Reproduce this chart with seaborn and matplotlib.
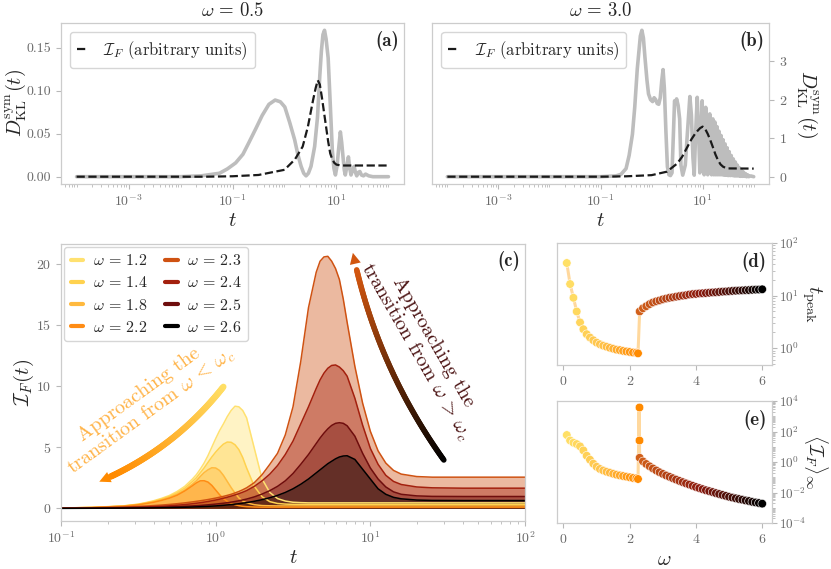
import numpy as np
import matplotlib
matplotlib.use("Agg")
import matplotlib.pyplot as plt
import seaborn as sns
from matplotlib.collections import LineCollection
from matplotlib.colors import LinearSegmentedColormap
from matplotlib.ticker import FixedLocator, NullFormatter, LogLocator

# ---------------- data ----------------
# panel (a), omega = 0.5
log10_t_a_gray = [-4.0, -2.0, -1.6, -1.25, -1.1, -0.94, -0.8, -0.69, -0.55, -0.43, -0.3, -0.18, -0.08,
                  0.006, 0.1, 0.195, 0.26, 0.32, 0.37, 0.415, 0.46, 0.51, 0.58, 0.635, 0.68, 0.71, 0.74,
                  0.77, 0.80, 0.84, 0.88, 0.92, 0.95, 0.98, 1.01, 1.04, 1.075, 1.10, 1.126, 1.15, 1.17,
                  1.2, 1.23, 1.255, 1.28, 1.31, 1.34, 1.365, 1.39, 1.42, 1.45, 1.48, 1.52, 1.56, 1.62,
                  1.7, 2.0]
dkl_a = [0, 0, 0.001, 0.004, 0.009, 0.016, 0.026, 0.039, 0.056, 0.071, 0.084, 0.089, 0.087,
         0.081, 0.063, 0.043, 0.025, 0.012, 0.004, 0.001, 0.004, 0.012, 0.035, 0.069, 0.118, 0.146, 0.165,
         0.17, 0.16, 0.138, 0.085, 0.031, 0.01, 0.002, 0.012, 0.031, 0.052, 0.04, 0.023, 0.008, 0.002,
         0.012, 0.023, 0.01, 0.002, 0.008, 0.012, 0.005, 0.001, 0.005, 0.006, 0.002, 0.001, 0.003, 0.001,
         0.0, 0.0]
log10_t_a_dash = [-4.0, -1.5, -1.0, -0.5, 0.0, 0.2, 0.35, 0.45, 0.55, 0.6, 0.64, 0.68, 0.72, 0.76,
                  0.8, 0.84, 0.88, 0.92, 0.96, 1.0, 1.1, 2.0]
fisher_a = [0, 0, 0.0005, 0.002, 0.008, 0.02, 0.035, 0.058, 0.089, 0.103, 0.112, 0.107, 0.092, 0.075,
            0.058, 0.041, 0.027, 0.02, 0.016, 0.014, 0.013, 0.013]

# panel (b), omega = 3.0
log10_t_b_gray = [-4.0, -1.0, -0.7, -0.6, -0.5, -0.44, -0.375, -0.33, -0.28, -0.22, -0.19, -0.16, -0.13,
                  -0.09, -0.06, -0.02, 0.02, 0.05, 0.08, 0.11, 0.14, 0.17, 0.2, 0.225, 0.25, 0.28, 0.31,
                  0.34, 0.37, 0.40, 0.43, 0.45, 0.47, 0.49, 0.52, 0.55, 0.575, 0.61, 0.66, 0.7, 0.75,
                  0.78, 0.81, 0.835, 0.865, 0.894, 0.92, 0.945, 0.97, 0.99, 1.01, 1.03, 1.06, 1.08,
                  1.10, 1.14, 1.16, 1.175, 1.20, 1.22, 1.24, 1.26, 1.28, 1.30, 1.32, 1.34, 1.36, 1.38,
                  1.40, 1.42, 1.44, 1.46, 1.48, 1.50, 1.52, 1.54, 1.56, 1.58, 1.60, 1.62, 1.64, 1.66,
                  1.68, 1.70, 1.72, 1.74, 1.76, 1.78, 1.80, 1.82, 1.84, 1.86, 1.88, 1.90, 1.94, 2.0]
dkl_b = [0, 0, 0.02, 0.06, 0.21, 0.55, 1.1, 1.8, 2.8, 3.65, 3.8, 3.6, 3.1,
         2.5, 2.15, 2.0, 1.95, 2.05, 2.0, 1.9, 1.88, 2.05, 2.5, 2.78, 2.3, 1.2, 0.26,
         0.05, 0.03, 0.1, 1.2, 1.97, 1.9, 2.02, 1.85, 1.5, 0.3, 0.04, 0.3, 1.1, 2.08,
         1.6, 0.5, 0.04, 1.2, 2.06, 1.2, 0.1, 1.2, 1.97, 0.9, 0.05, 1.8, 0.6,
         0.05, 1.63, 0.4, 0.05, 1.5, 0.05, 1.42, 0.05, 1.3, 0.05, 1.18, 0.05, 1.07, 0.05,
         0.96, 0.04, 0.85, 0.04, 0.75, 0.03, 0.65, 0.03, 0.55, 0.03, 0.46, 0.02, 0.38, 0.02,
         0.3, 0.02, 0.23, 0.01, 0.17, 0.01, 0.12, 0.01, 0.08, 0.0, 0.05, 0.0, 0.02, 0.0]
log10_t_b_dash = [-4.0, -1.0, -0.5, 0.0, 0.3, 0.5, 0.6, 0.7, 0.78, 0.85, 0.9, 0.95, 1.0, 1.05, 1.1,
                  1.15, 1.2, 1.25, 1.3, 1.35, 1.4, 1.45, 1.5, 2.0]
fisher_b = [0, 0, 0.01, 0.04, 0.13, 0.34, 0.52, 0.77, 0.97, 1.11, 1.19, 1.26, 1.3, 1.24, 1.11,
            0.95, 0.77, 0.58, 0.43, 0.32, 0.26, 0.23, 0.215, 0.21]

# panel (c): I_F(t) for several omega
log10_t_c = [-1.0, -0.8, -0.6, -0.5, -0.45, -0.4, -0.35, -0.3, -0.25, -0.2,
             -0.15, -0.125, -0.1, -0.075, -0.05, -0.025, 0.0, 0.025, 0.05, 0.075, 0.1, 0.125, 0.15, 0.175,
             0.2, 0.25, 0.3, 0.35, 0.4, 0.45, 0.5, 0.55, 0.6,
             0.65, 0.675, 0.7, 0.725, 0.75, 0.775, 0.8, 0.825, 0.85,
             0.9, 0.95, 1.0, 1.05, 1.1, 1.15, 1.2, 1.3, 1.4, 1.6, 1.8, 2.0]
omega_c = ["1.2", "1.4", "1.8", "2.2", "2.3", "2.4", "2.5", "2.6"]
fisher_w12 = [0.03, 0.08, 0.2, 0.35, 0.48, 0.63, 0.82, 1.05, 1.38, 1.8,
              2.4, 2.75, 3.2, 3.7, 4.3, 5.0, 5.7, 6.35, 6.9, 7.5, 8.0, 8.35, 8.3, 8.0,
              7.4, 4.9, 2.4, 1.3, 0.8, 0.6, 0.5, 0.47, 0.45,
              0.45, 0.45, 0.45, 0.45, 0.45, 0.45, 0.45, 0.45, 0.45,
              0.45, 0.45, 0.45, 0.45, 0.45, 0.45, 0.45, 0.45, 0.45, 0.45, 0.45, 0.45]
fisher_w14 = [0.03, 0.07, 0.19, 0.33, 0.45, 0.58, 0.76, 0.97, 1.27, 1.65,
              2.2, 2.5, 2.9, 3.3, 3.75, 4.2, 4.6, 4.95, 5.25, 5.42, 5.4, 5.2, 4.8, 4.15,
              3.3, 1.8, 0.95, 0.55, 0.4, 0.35, 0.33, 0.32, 0.32,
              0.32, 0.32, 0.32, 0.32, 0.32, 0.32, 0.32, 0.32, 0.32,
              0.32, 0.32, 0.32, 0.32, 0.32, 0.32, 0.32, 0.32, 0.32, 0.32, 0.32, 0.32]
fisher_w18 = [0.03, 0.07, 0.18, 0.31, 0.42, 0.54, 0.7, 0.9, 1.15, 1.5,
              1.98, 2.25, 2.6, 2.92, 3.15, 3.32, 3.3, 3.1, 2.7, 2.2, 1.7, 1.25, 0.85, 0.6,
              0.45, 0.3, 0.23, 0.21, 0.2, 0.2, 0.2, 0.2, 0.2,
              0.2, 0.2, 0.2, 0.2, 0.2, 0.2, 0.2, 0.2, 0.2,
              0.2, 0.2, 0.2, 0.2, 0.2, 0.2, 0.2, 0.2, 0.2, 0.2, 0.2, 0.2]
fisher_w22 = [0.03, 0.07, 0.17, 0.29, 0.39, 0.5, 0.65, 0.83, 1.07, 1.42,
              1.85, 2.08, 2.25, 2.26, 2.15, 1.88, 1.5, 1.12, 0.8, 0.58, 0.42, 0.3, 0.22, 0.17,
              0.14, 0.11, 0.1, 0.1, 0.1, 0.1, 0.1, 0.1, 0.1,
              0.1, 0.1, 0.1, 0.1, 0.1, 0.1, 0.1, 0.1, 0.1,
              0.1, 0.1, 0.1, 0.1, 0.1, 0.1, 0.1, 0.1, 0.1, 0.1, 0.1, 0.1]
fisher_w23 = [0.02, 0.05, 0.11, 0.16, 0.19, 0.23, 0.27, 0.32, 0.38, 0.45,
              0.53, 0.575, 0.62, 0.67, 0.72, 0.78, 0.84, 0.91, 0.98, 1.06, 1.15, 1.26, 1.38, 1.52,
              1.68, 2.1, 2.75, 3.6, 4.5, 6.0, 8.3, 12.0, 16.4,
              19.3, 20.2, 20.55, 20.6, 20.2, 19.6, 18.7, 17.1, 15.2,
              11.6, 8.6, 6.3, 4.7, 3.7, 3.1, 2.8, 2.6, 2.55, 2.55, 2.55, 2.55]
fisher_w24 = [0.01, 0.03, 0.07, 0.1, 0.12, 0.14, 0.17, 0.21, 0.26, 0.31,
              0.38, 0.42, 0.46, 0.51, 0.56, 0.62, 0.68, 0.75, 0.83, 0.91, 1.0, 1.1, 1.2, 1.32,
              1.45, 1.8, 2.25, 2.8, 3.5, 4.4, 5.5, 6.9, 8.3,
              9.8, 10.5, 11.05, 11.45, 11.68, 11.72, 11.55, 11.25, 10.8,
              9.0, 6.8, 4.9, 3.6, 2.7, 2.2, 1.95, 1.75, 1.68, 1.65, 1.65, 1.65]
fisher_w25 = [0.01, 0.02, 0.04, 0.06, 0.07, 0.08, 0.1, 0.12, 0.14, 0.17,
              0.2, 0.22, 0.24, 0.265, 0.29, 0.32, 0.35, 0.385, 0.42, 0.465, 0.51, 0.565, 0.62, 0.69,
              0.76, 0.94, 1.17, 1.45, 1.8, 2.25, 2.85, 3.6, 4.4,
              5.3, 5.75, 6.15, 6.5, 6.78, 6.95, 7.0, 6.95, 6.75,
              5.9, 4.5, 3.3, 2.4, 1.75, 1.35, 1.15, 1.02, 0.98, 0.97, 0.97, 0.97]
fisher_w26 = [0.0, 0.01, 0.02, 0.03, 0.035, 0.04, 0.05, 0.06, 0.075, 0.09,
              0.11, 0.122, 0.135, 0.15, 0.165, 0.182, 0.2, 0.225, 0.25, 0.28, 0.31, 0.345, 0.38, 0.425,
              0.47, 0.58, 0.71, 0.87, 1.06, 1.3, 1.6, 1.97, 2.4,
              2.9, 3.15, 3.4, 3.65, 3.85, 4.05, 4.2, 4.28, 4.3,
              4.0, 3.2, 2.4, 1.6, 1.15, 0.9, 0.78, 0.68, 0.65, 0.64, 0.64, 0.64]
colors_c = ["#ffe170", "#ffd24f", "#ffb93e", "#ff8c14", "#cf5212", "#a3200e", "#6e0d0d", "#000000"]

# panels (d) and (e)
omega_low = [0.1, 0.2, 0.3, 0.4, 0.5, 0.6, 0.7, 0.8, 0.9, 1.0, 1.1, 1.2, 1.3, 1.4, 1.5, 1.6,
             1.7, 1.8, 1.9, 2.0, 2.1, 2.2, 2.25]
omega_high = [2.3, 2.4, 2.5, 2.6, 2.7, 2.8, 2.9, 3.0, 3.1, 3.2, 3.3, 3.4, 3.5, 3.6, 3.7, 3.8,
              3.9, 4.0, 4.1, 4.2, 4.3, 4.4, 4.5, 4.6, 4.7, 4.8, 4.9, 5.0, 5.1, 5.2, 5.3, 5.4,
              5.5, 5.6, 5.7, 5.8, 5.9, 6.0]
tpeak_low = [41.7, 16.6, 9.1, 5.0, 3.1, 2.3, 1.85, 1.6, 1.42, 1.28, 1.19, 1.12, 1.07, 1.02, 0.98,
             0.94, 0.92, 0.89, 0.87, 0.85, 0.83, 0.82, 0.80]
tpeak_high = [5.0, 5.75, 6.3, 6.9, 7.4, 7.8, 8.1, 8.5, 8.8, 9.1, 9.3, 9.55, 9.8, 10.0, 10.2, 10.5,
              10.7, 10.8, 11.0, 11.1, 11.2, 11.35, 11.5, 11.6, 11.75, 11.9, 12.0, 12.15, 12.3, 12.4,
              12.5, 12.6, 12.7, 12.75, 12.9, 13.0, 13.05, 13.2]
omega_jump = [2.27, 2.28]
finf_jump = [29.0, 4000.0]
finf_low = [59.0, 26.0, 18.5, 15.0, 10.7, 5.8, 2.6, 1.42, 0.78, 0.49, 0.35, 0.28, 0.23, 0.20, 0.17,
            0.148, 0.133, 0.12, 0.11, 0.10, 0.09, 0.085, 0.077]
finf_high = [1.91, 1.10, 0.741, 0.525, 0.380, 0.282, 0.214, 0.166, 0.132, 0.107, 0.0871, 0.0708,
             0.0575, 0.0479, 0.0398, 0.0331, 0.0275, 0.0229, 0.0195, 0.0166, 0.0141, 0.0123,
             0.0107, 0.00912, 0.00794, 0.00692, 0.00603, 0.00525, 0.00468, 0.00417, 0.00372,
             0.00339, 0.00302, 0.00275, 0.00245, 0.00224, 0.00204, 0.00186]

# ---------------- style ----------------
sns.set_theme(style="ticks")
plt.rcParams['font.family'] = ['cmr10', 'DejaVu Serif']
plt.rcParams['mathtext.fontset'] = 'cm'
plt.rcParams['axes.formatter.use_mathtext'] = True

TICK_C = '0.72'
LABEL_C = '0.42'
SPINE_C = '0.8'


def style_axes(ax):
    for sp in ax.spines.values():
        sp.set_color(SPINE_C)
        sp.set_linewidth(0.9)
    ax.tick_params(which='both', color=TICK_C, labelcolor=LABEL_C, labelsize=10)
    ax.tick_params(which='major', length=3.5, width=0.8)
    ax.tick_params(which='minor', length=2, width=0.6)


def panel_label(ax, s, x, y):
    ax.text(x, y, s, transform=ax.transAxes, ha='right', va='top', fontsize=13.5, family='cmb10')


def decade_minors(lo, hi, skip_majors):
    vals = []
    for k in range(lo, hi + 1):
        for m in range(1, 10):
            if m == 1 and k in skip_majors:
                continue
            vals.append(m * 10.0 ** k)
    return vals


def gradient_arrow(ax, p0, p1, p2, c_start, c_end, lw, cut=9, head=20):
    s = np.linspace(0, 1, 120)
    p0, p1, p2 = (np.asarray(p) for p in (p0, p1, p2))
    pts = ((1 - s) ** 2)[:, None] * p0 + (2 * (1 - s) * s)[:, None] * p1 + (s ** 2)[:, None] * p2
    body = pts[:-cut]
    segs = np.stack([body[:-1], body[1:]], axis=1)
    cmap = LinearSegmentedColormap.from_list('grad', [c_start, c_end])
    lc = LineCollection(segs, colors=cmap(np.linspace(0, 1, len(segs))), linewidths=lw,
                        transform=ax.transAxes, capstyle='round', zorder=5)
    ax.add_collection(lc, autolim=False)
    ax.annotate('', xy=pts[-1], xytext=pts[-cut - 3], xycoords='axes fraction',
                textcoords='axes fraction',
                arrowprops=dict(arrowstyle='-|>', mutation_scale=head, color=c_end, lw=0,
                                shrinkA=0, shrinkB=0), zorder=6)


fig = plt.figure(figsize=(8.31, 5.69), dpi=100)
ax_a = fig.add_axes([0.0734, 0.6766, 0.4128, 0.2830])
ax_b = fig.add_axes([0.5199, 0.6766, 0.4055, 0.2830])
ax_c = fig.add_axes([0.0734, 0.0844, 0.5584, 0.4873])
ax_d = fig.add_axes([0.6703, 0.3585, 0.2587, 0.2144])
ax_e = fig.add_axes([0.6703, 0.0808, 0.2587, 0.2144])

# ---------------- (a) and (b) ----------------
for ax, lt_g, dk, lt_d, fi, ttl, lab in [
        (ax_a, log10_t_a_gray, dkl_a, log10_t_a_dash, fisher_a, r'$\omega\,=\,0.5$', '(a)'),
        (ax_b, log10_t_b_gray, dkl_b, log10_t_b_dash, fisher_b, r'$\omega\,=\,3.0$', '(b)')]:
    sns.lineplot(x=10 ** np.array(lt_g), y=dk, color='#bdbdbd', lw=2.6, ax=ax, zorder=2)
    sns.lineplot(x=10 ** np.array(lt_d), y=fi, color='k', lw=1.6, linestyle='--', ax=ax, zorder=3,
                 label=r'$\mathcal{I}_F$ (arbitrary units)')
    ax.set_xscale('log')
    ax.set_xticks([1e-3, 1e-1, 1e1])
    ax.xaxis.set_minor_locator(FixedLocator(decade_minors(-5, 2, [-3, -1, 1])))
    ax.xaxis.set_minor_formatter(NullFormatter())
    ax.set_xlabel(r'$t$', fontsize=15, labelpad=2)
    ax.set_title(ttl, fontsize=13.5, pad=5)
    panel_label(ax, lab, 0.985, 0.95)
    ax.legend(loc='upper left', fontsize=12, handlelength=0.6, handletextpad=1.0,
              borderaxespad=0.55, edgecolor=SPINE_C, fancybox=True)
    style_axes(ax)

ax_a.set_yticks([0, 0.05, 0.10, 0.15])
ax_a.set_yticklabels(['0.00', '0.05', '0.10', '0.15'])
ax_a.set_ylabel(r'$D^{\rm sym}_{\rm KL}(t)$', fontsize=14.5)
ax_a.yaxis.set_label_coords(-0.095, 0.5)

ax_b.yaxis.tick_right()
ax_b.yaxis.set_label_position('right')
ax_b.set_yticks([0, 1, 2, 3])
ax_b.set_ylabel(r'$D^{\rm sym}_{\rm KL}(t)$', fontsize=14.5, rotation=270, va='bottom', labelpad=6)

# ---------------- (c) ----------------
t_c = 10 ** np.array(log10_t_c)
curves_c = [fisher_w12, fisher_w14, fisher_w18, fisher_w22, fisher_w23, fisher_w24, fisher_w25, fisher_w26]
for w, col, vals in zip(omega_c, colors_c, curves_c):
    ax_c.fill_between(t_c, 0, vals, color=col, alpha=0.4, lw=0)
    sns.lineplot(x=t_c, y=vals, color=col, lw=1.1, ax=ax_c, label=r'$\omega\,=\,%s$' % w)
ax_c.set_xscale('log')
ax_c.set_xlim(0.1, 100)
ax_c.set_yticks([0, 5, 10, 15, 20])
ax_c.set_xlabel(r'$t$', fontsize=15, labelpad=2)
ax_c.set_ylabel(r'$\mathcal{I}_F(t)$', fontsize=15)
ax_c.yaxis.set_label_coords(-0.054, 0.5)
panel_label(ax_c, '(c)', 0.99, 0.975)
leg = ax_c.legend(loc='upper left', ncol=2, fontsize=11.5, handlelength=0.8, handletextpad=0.6,
                  columnspacing=1.1, borderaxespad=0.2, labelspacing=0.45, edgecolor=SPINE_C)
for h in leg.get_lines():
    h.set_linewidth(3)
style_axes(ax_c)

gradient_arrow(ax_c, (0.350, 0.484), (0.2425, 0.256), (0.0825, 0.1417), '#ffe066', '#ff8a00', 4.5)
gradient_arrow(ax_c, (0.825, 0.220), (0.680, 0.559), (0.629, 0.967), '#000000', '#d2560f', 4.0)
ax_c.text(0.183, 0.422, 'Approaching the\ntransition from $\\omega\\,<\\,\\omega_c$', transform=ax_c.transAxes,
          rotation=36, rotation_mode='anchor', ha='center', va='center', multialignment='center',
          fontsize=14.5, color='#ffb347', linespacing=1.05)
ax_c.text(0.782, 0.627, 'Approaching the\ntransition from $\\omega\\,>\\,\\omega_c$', transform=ax_c.transAxes,
          rotation=-60, rotation_mode='anchor', ha='center', va='center', multialignment='center',
          fontsize=14.5, color='#4a1212', linespacing=1.05)

# ---------------- (d) and (e) ----------------
cmap_low = LinearSegmentedColormap.from_list('low', ['#ffe066', '#ffc34a', '#ff8a00'])
cmap_high = LinearSegmentedColormap.from_list('high', ['#d2601a', '#8b1a0e', '#000000'])

omega_d = omega_low + omega_high
tpeak_all = tpeak_low + tpeak_high
omega_e = omega_low + omega_jump + omega_high
finf_all = finf_low + finf_jump + finf_high

for ax, xs, ys in [(ax_d, omega_d, tpeak_all), (ax_e, omega_e, finf_all)]:
    sns.lineplot(x=xs, y=ys, sort=False, color='#ffcf85', lw=2.2, alpha=0.8, ax=ax, zorder=1)

sns.scatterplot(x=omega_low, y=tpeak_low, hue=omega_low, palette=cmap_low, s=38, legend=False,
                edgecolor='white', linewidth=0.4, ax=ax_d, zorder=3)
sns.scatterplot(x=omega_high, y=tpeak_high, hue=omega_high, palette=cmap_high, s=38, legend=False,
                edgecolor='white', linewidth=0.4, ax=ax_d, zorder=3)
sns.scatterplot(x=omega_low, y=finf_low, hue=omega_low, palette=cmap_low, s=38, legend=False,
                edgecolor='white', linewidth=0.4, ax=ax_e, zorder=3)
sns.scatterplot(x=omega_jump, y=finf_jump, color='#ff8a00', s=38, legend=False,
                edgecolor='white', linewidth=0.4, ax=ax_e, zorder=3)
sns.scatterplot(x=omega_high, y=finf_high, hue=omega_high, palette=cmap_high, s=38, legend=False,
                edgecolor='white', linewidth=0.4, ax=ax_e, zorder=3)

for ax in (ax_d, ax_e):
    ax.set_yscale('log')
    ax.yaxis.tick_right()
    ax.yaxis.set_label_position('right')
    ax.set_xticks([0, 2, 4, 6])

ax_d.set_ylim(0.48, 100)
ax_d.set_yticks([1, 10, 100])
ax_d.yaxis.set_minor_locator(LogLocator(base=10, subs=np.arange(2, 10), numticks=20))
ax_d.set_ylabel(r'$t_{\rm peak}$', fontsize=14.5, rotation=270, va='bottom')
ax_d.yaxis.set_label_coords(1.13, 0.5)
panel_label(ax_d, '(d)', 0.975, 0.93)

ax_e.set_ylim(1e-4, 1e4)
ax_e.set_yticks([1e-4, 1e-2, 1, 1e2, 1e4])
ax_e.yaxis.set_minor_locator(LogLocator(base=10, subs=np.arange(1, 10), numticks=30))
ax_e.set_ylabel(r'$\langle \mathcal{I}_F \rangle_\infty$', fontsize=14, rotation=270, va='bottom')
ax_e.yaxis.set_label_coords(1.14, 0.5)
ax_e.set_xlabel(r'$\omega$', fontsize=15, labelpad=4)
panel_label(ax_e, '(e)', 0.975, 0.93)

for ax in (ax_d, ax_e):
    ax.yaxis.set_minor_formatter(NullFormatter())
    style_axes(ax)
    ax.tick_params(axis='y', which='major', pad=1.5, labelsize=9.5)

fig.savefig('out.png', dpi=100)
